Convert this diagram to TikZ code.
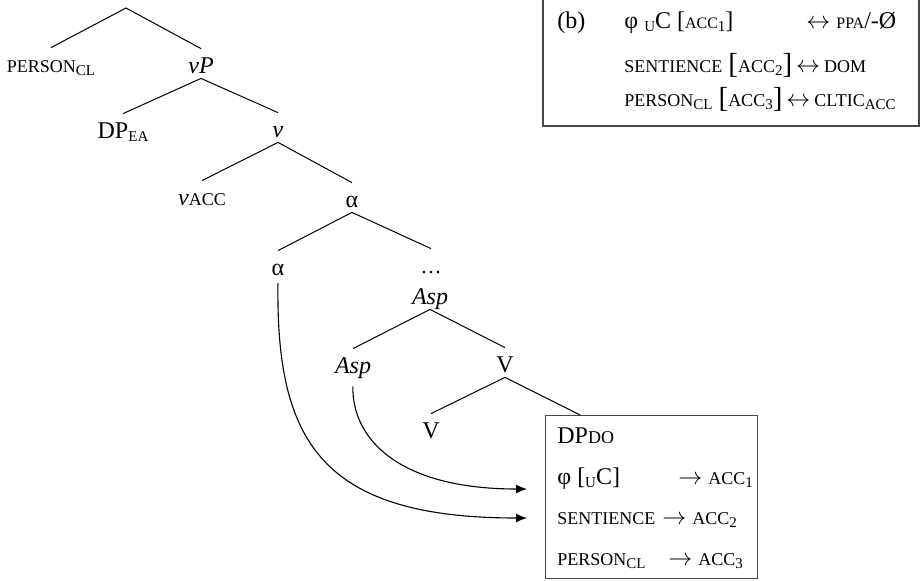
\documentclass[tikz,border=0pt]{standalone}
\usepackage{fontspec}
\setmainfont{Liberation Serif}
\usetikzlibrary{arrows.meta,calc}
% small capitals drawn as reduced capitals
\newcommand{\smc}[1]{{\fontsize{9}{10}\selectfont\uppercase{#1}}}
\newcommand{\smcs}[1]{{\fontsize{8}{9}\selectfont\uppercase{#1}}}
\newcommand{\lowsub}[1]{\raisebox{-0.3ex}{\fontsize{7.5}{8}\selectfont #1}}
\newcommand{\bigbr}[1]{\raisebox{-0.8pt}{\fontsize{14.5}{15}\selectfont #1}}
\newcommand{\rarr}{$\rightarrow$}
\newcommand{\lrarr}{$\leftrightarrow$}
\begin{document}
\begin{tikzpicture}[x=0.5pt,y=-0.5pt,
  font=\fontsize{12}{14}\selectfont,
  tn/.style={anchor=base,inner sep=0pt,text height=12pt,text depth=2.5pt},
  branch/.style={line width=0.5pt},
  txt/.style={anchor=base west,inner sep=0pt},
  boxline/.style={line width=0.7pt,draw=black!72},
  mover/.style={line width=0.55pt,-{Latex[length=5.5pt,width=4.5pt]}}]
\useasboundingbox (0,0) rectangle (922,580);

% tree
\coordinate (root) at (126,8);
\node[tn] (pcl)  at (51,72)   {\smc{person}\lowsub{CL}};
\node[tn] (vP)   at (201,73)  {\textit{νP}};
\node[tn] (dpea) at (123,138) {DP\lowsub{EA}};
\node[tn] (v)    at (278,137) {\textit{ν}};
\node[tn] (vacc) at (202,205) {\textit{ν}\smc{acc}};
\node[tn] (a1)   at (352,207) {α};
\node[tn] (a2)   at (278,275) {α};
\node[tn] (dots) at (431,273) {{\fontsize{10.5}{11}\selectfont …}};
\node[tn] (asp1) at (430,304) {\textit{Asp}};
\node[tn] (asp2) at (353,373) {\textit{Asp}};
\node[tn] (v1)   at (505,372) {V};
\node[tn] (v2)   at (431,438) {V};

% DP box
\node[boxline,draw,inner sep=0pt,minimum width=106pt,minimum height=81.5pt,anchor=north west] (dobox) at (545,415) {};
\coordinate (dotop) at ($(dobox.north west)!0.165!(dobox.north east)$);
\node[txt] (dodp)  at (557,443) {DP\smc{do}};
\node[txt] (dophi) at (557,484) {φ [\lowsub{U}C]};
\node[txt] (doacc1) at (678,484) {\rarr\ \smc{acc}\lowsub{1}};
\node[txt] (dosen) at (557,524) {\smc{sentience}};
\node[txt] (doacc2) at (662,524) {\rarr\ \smc{acc}\lowsub{2}};
\node[txt] (doper) at (557,565) {\smc{person}\lowsub{CL}};
\node[txt] (doacc3) at (668,565) {\rarr\ \smc{acc}\lowsub{3}};

\draw[branch] (root) -- (pcl.north);
\draw[branch] (root) -- (vP.north);
\draw[branch] (vP.south) -- (dpea.north);
\draw[branch] (vP.south) -- (v.north);
\draw[branch] (v.south) -- (vacc.north);
\draw[branch] (v.south) -- (a1.north);
\draw[branch] (a1.south) -- (a2.north);
\draw[branch] (a1.south) -- (dots.north);
\draw[branch] (asp1.south) -- (asp2.north);
\draw[branch] (asp1.south) -- (v1.north);
\draw[branch] (v1.south) -- (v2.north);
\draw[branch] (v1.south) -- (dotop);

% movement arrows
\coordinate (tip1) at (527,489);
\coordinate (tip2) at (527,518);
\draw[mover,shorten <=4pt] (asp2.south) .. controls (352,440) and (400,489) .. (tip1);
\draw[mover,shorten <=1.5pt] (a2.south) .. controls (276,440) and (320,518) .. (tip2);

% (b) box
\node[inner sep=0pt,minimum width=187.5pt,minimum height=62.5pt,anchor=north west] (bbox) at (543,0) {};
\draw[boxline] (bbox.north west) |- (bbox.south east) -- (bbox.north east);
\node[txt] (blab) at (557,28) {(b)};
\node[txt] (brow1) at (624,28) {φ \lowsub{U}C [\smcs{acc}\lowsub{1}]};
\node[txt] (brow1b) at (806,28) {\lrarr\ \smcs{ppa}/-Ø};
\node[txt] (brow2) at (624,72) {\smc{sentience} \bigbr{[}\smc{acc}\lowsub{2}\bigbr{]}\,\lrarr\,\smc{dom}};
\node[txt] (brow3) at (624,106) {\smc{person}\lowsub{CL} \bigbr{[}\smc{acc}\lowsub{3}\bigbr{]}\,\lrarr\,\smc{cltic}\lowsub{ACC}};
\end{tikzpicture}
\end{document}
